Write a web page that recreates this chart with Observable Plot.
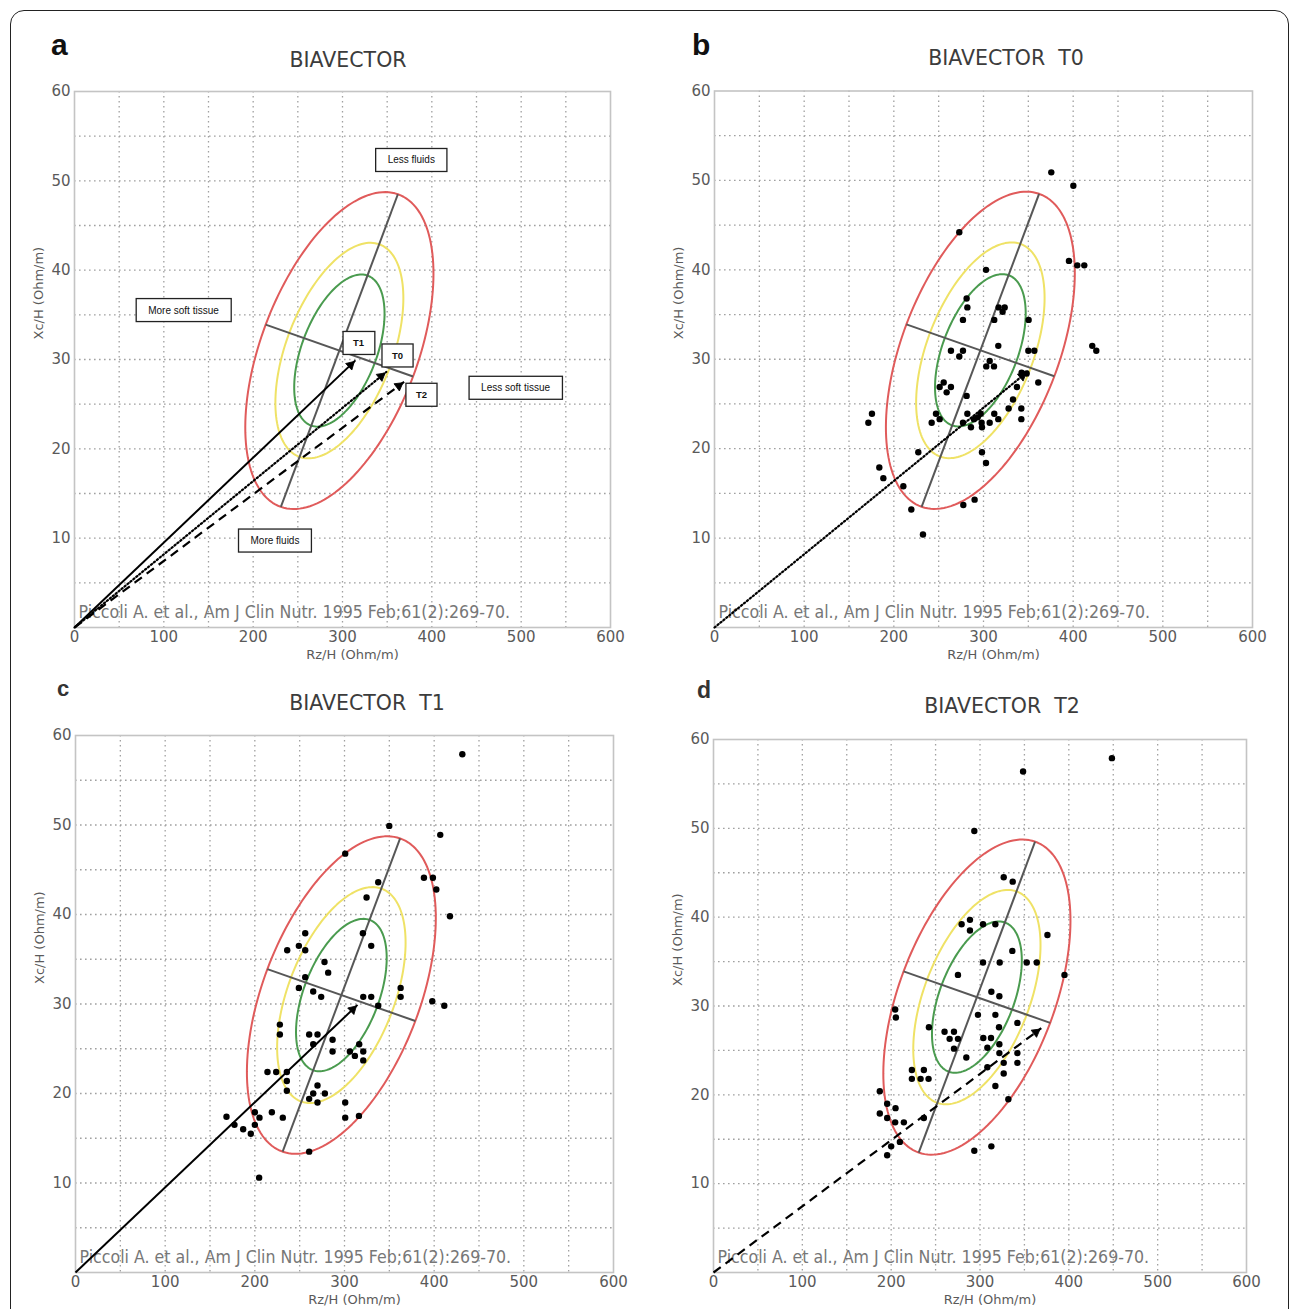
<!DOCTYPE html>
<html><head><meta charset="utf-8">
<script src="https://cdn.jsdelivr.net/npm/d3@7"></script>
<script src="https://cdn.jsdelivr.net/npm/@observablehq/plot@0.6"></script>
<style>
body{margin:0;background:#fff;}
#page{position:relative;width:1290px;height:1309px;overflow:hidden;background:#fff;}
.border{position:absolute;left:10px;top:10px;width:1279px;height:1340px;border:1.6px solid #222;border-radius:14px;box-sizing:border-box;}
.panel{position:absolute;}
.title{position:absolute;font-family:"DejaVu Sans",sans-serif;font-size:20.5px;line-height:20px;color:#3c3c3c;white-space:pre;transform:translateX(-50%);}
.letter{position:absolute;font-family:"Liberation Sans",Arial,sans-serif;font-weight:bold;line-height:1;}
</style></head>
<body><div id="page"><div class="border"></div></div>
<script>
// ---------- data ----------
const titles = ["BIAVECTOR", "BIAVECTOR  T0", "BIAVECTOR  T1", "BIAVECTOR  T2"];
const panelLetters = ["a", "b", "c", "d"];
const xTicks = [0, 100, 200, 300, 400, 500, 600];
const yTicks = [10, 20, 30, 40, 50, 60];
const xGrid = [50, 100, 150, 200, 250, 300, 350, 400, 450, 500, 550];
const yGrid = [5, 10, 15, 20, 25, 30, 35, 40, 45, 50, 55];
const xLabel = "Rz/H (Ohm/m)";
const yLabel = "Xc/H (Ohm/m)";
const citation = "Piccoli A. et al., Am J Clin Nutr. 1995 Feb;61(2):269-70.";

// tolerance ellipse (reference population)
const ellipseCenter = [296.5, 31];
const majorAxisEnd = [362, 48.5];
const minorAxisEnd = [379, 28.1];
const ellipseLevels = [1, 0.68, 0.48]; // 95%, 75%, 50%

// mean impedance vectors
const vectorNames = ["T0", "T1", "T2"];
const vectorRz = [349, 314.5, 369];
const vectorXc = [28.6, 29.9, 27.5];

// annotation labels in panel a
const regionLabels = ["Less fluids", "More soft tissue", "Less soft tissue", "More fluids"];
const regionX = [377, 122, 493.7, 224.4];
const regionY = [52.3, 35.5, 26.8, 9.7];
const timeLabels = ["T1", "T0", "T2"];
const timeX = [318, 361.6, 388.4];
const timeY = [31.8, 30.4, 26.0];

// individual subjects
const pointsT0 = [
[375.6,50.9],[400.2,49.4],[273,44.2],[395.3,41.0],[404.6,40.5],[412.4,40.5],[302.8,40.0],
[281.2,36.8],[282,35.8],[316.9,35.8],[323.6,35.8],[321.3,35.3],[312,34.4],[277.1,34.4],[350.3,34.4],
[316.5,31.5],[263.7,30.95],[277.1,30.95],[273,30.3],[350,30.95],[356.7,30.95],[421.3,31.5],[425.8,30.95],
[306.9,29.8],[303.1,29.2],[311.7,29.2],[342.5,28.5],[348.1,28.4],[255.6,27.4],[251.1,26.9],[263.7,26.9],
[258.9,26.3],[361.1,27.4],[337.3,26.9],[281.2,25.9],[332.9,25.5],[247,23.9],[251.1,23.3],[242.2,22.9],
[282,23.9],[296.8,23.9],[312,23.9],[293.5,23.5],[289.4,23.3],[316.5,23.3],[328,24.5],[342.2,24.5],
[342.2,23.3],[277.1,22.9],[286,22.4],[297.9,22.9],[298.3,22.4],[306.9,22.9],[175.6,23.9],[171.6,22.9],
[298.3,19.6],[302.8,18.4],[227.3,19.6],[183.8,17.9],[188.3,16.7],[210.6,15.8],[277.5,13.7],[290.1,14.3],
[219.5,13.2],[232.5,10.4]
];
const pointsT1 = [
[431.4,57.9],[349.9,49.9],[406.8,48.9],[300.8,46.8],[388.6,44.1],[398.6,44.1],[402.4,42.8],[337.6,43.6],
[324.6,41.9],[417.6,39.8],[320.5,37.9],[256.2,37.9],[249.1,36.5],[236.1,36.0],[256.2,36.0],[329.8,36.5],
[277.7,34.7],[281.8,33.5],[256.2,33.0],[249.1,31.8],[265.1,31.4],[274,30.8],[362.6,31.8],[362.6,30.8],
[320.9,30.8],[329.8,30.8],[337.6,29.8],[397.9,30.3],[411.3,29.8],[227.9,27.7],[227.9,26.6],[260.6,26.6],
[269.9,26.6],[265.1,25.5],[286.7,26.0],[286.7,24.7],[306,24.7],[316.4,25.5],[311.6,24.2],[320.9,24.7],
[320.9,23.7],[214.1,22.4],[223.8,22.4],[235.7,22.4],[235.7,21.4],[235.7,20.3],[269.9,20.9],[265.1,20.0],
[260.6,19.4],[278.1,20.0],[269.9,19.0],[300.8,19.0],[300.8,17.3],[316.1,17.5],[168.4,17.4],[177.3,16.5],
[187,16.0],[195.5,15.5],[200,17.9],[205.2,17.3],[200,16.5],[219,17.9],[231.2,17.3],[260.6,13.5],[204.8,10.6]
];
const pointsT2 = [
[448.5,57.9],[348.5,56.4],[293.6,49.7],[326.7,44.5],[336.8,44.0],[279.3,39.2],[288.7,39.7],[288.7,38.5],
[303.4,39.2],[317.3,39.2],[375.9,38.0],[336.4,36.2],[303.4,34.9],[322.2,34.9],[352.6,34.9],[363.9,34.9],
[395.1,33.5],[275.2,33.5],[312.8,31.6],[321.8,31.1],[204.5,29.6],[205.3,28.7],[297.7,29.0],[317.3,29.0],
[342.1,28.1],[242.5,27.6],[260.1,27.1],[270.7,27.1],[265.8,26.3],[275.2,26.3],[270.7,25.2],[321.4,27.6],
[303.7,26.4],[312.4,26.4],[308.3,25.3],[321.8,25.7],[321.8,24.7],[342.1,24.7],[342.1,23.6],[284.6,24.2],
[308.3,23.1],[326.7,23.6],[326.7,22.4],[317.3,21.0],[331.9,19.5],[223.3,22.8],[236.8,22.8],[223.3,21.8],
[233.1,21.8],[242.1,21.8],[187.2,20.4],[195.5,19.0],[204.9,18.5],[187.2,17.9],[195.5,17.4],[204.5,16.9],
[214.3,16.9],[236.8,17.4],[200,14.2],[195.5,13.2],[209.8,14.7],[293.6,13.7],[312.8,14.2]
];

// ---------- styles / layout ----------
const ellipseColors = ["#e05b5b", "#efe266", "#4a9b4f"];
const dashStyles = {T0: "1.4,2.4", T1: null, T2: "9,6"};
const headHeight = 10; // px
const layout = [
  {left: 0,   top: 0,   width: 645, height: 668, mL: 74, mR: 35, mT: 91,   mB: 41},
  {left: 645, top: 0,   width: 645, height: 668, mL: 69, mR: 38, mT: 90.5, mB: 41},
  {left: 0,   top: 668, width: 645, height: 641, mL: 75, mR: 32, mT: 67,   mB: 37},
  {left: 645, top: 668, width: 645, height: 641, mL: 68, mR: 44, mT: 71,   mB: 37}
];
const titlePos = [[348, 50], [1006, 48], [367, 693], [1002, 696]];
const letterPos = [[51, 29.6, 30, "#111"], [692, 29.6, 30, "#111"], [57, 678.4, 22, "#333"], [697, 678.5, 23, "#333"]];

// ---------- helpers ----------
const A = [majorAxisEnd[0] - ellipseCenter[0], majorAxisEnd[1] - ellipseCenter[1]];
const B = [minorAxisEnd[0] - ellipseCenter[0], minorAxisEnd[1] - ellipseCenter[1]];
function ellipsePoints(k) {
  const pts = [];
  for (let i = 0; i <= 160; i++) {
    const t = 2 * Math.PI * i / 160;
    pts.push({x: ellipseCenter[0] + k * (A[0] * Math.cos(t) + B[0] * Math.sin(t)),
              y: ellipseCenter[1] + k * (A[1] * Math.cos(t) + B[1] * Math.sin(t))});
  }
  return pts;
}
const axisSegments = [
  {x1: ellipseCenter[0] - A[0], y1: ellipseCenter[1] - A[1], x2: majorAxisEnd[0], y2: majorAxisEnd[1]},
  {x1: ellipseCenter[0] - B[0], y1: ellipseCenter[1] - B[1], x2: minorAxisEnd[0], y2: minorAxisEnd[1]}
];
const vectors = vectorNames.map((n, i) => ({name: n, x: vectorRz[i], y: vectorXc[i]}));

function vectorMarks(names, L) {
  const kx = (L.width - L.mL - L.mR) / 600;
  const ky = (L.height - L.mT - L.mB) / 60;
  const marks = [];
  const vs = vectors.filter(d => names.includes(d.name));
  for (const v of vs) {
    const dash = dashStyles[v.name];
    const opts = {x1: () => 0, y1: () => 0, x2: "x", y2: "y", stroke: "#000", strokeWidth: dash === null ? 2 : 2.2};
    if (dash !== null) { opts.strokeDasharray = dash; opts.strokeLinecap = v.name === "T0" ? "round" : "butt"; }
    marks.push(Plot.link([v], opts));
  }
  // filled triangular arrowheads, centred so the tip lands on the vector end
  const hy = headHeight / 3;
  const area = hy * hy * 3 * Math.sqrt(3);
  const lenPx = d => Math.hypot(d.x * kx, d.y * ky);
  marks.push(Plot.dot(vs, {
    x: d => d.x * (1 - 2 * hy / lenPx(d)),
    y: d => d.y * (1 - 2 * hy / lenPx(d)),
    symbol: "triangle2",
    r: Math.sqrt(area / Math.PI),
    rotate: d => 90 - Math.atan2(d.y * ky, d.x * kx) * 180 / Math.PI,
    fill: "#000", stroke: "#000", strokeWidth: 0.8
  }));
  return marks;
}

function baseMarks() {
  const gridStyle = {stroke: "#a0a0a0", strokeOpacity: 1, strokeDasharray: "1.6,3.4", strokeWidth: 1.3};
  return [
    Plot.gridX(xGrid, gridStyle),
    Plot.gridY(yGrid, gridStyle),
    Plot.frame({stroke: "#c4c4c4", strokeWidth: 1.6}),
    Plot.axisX(xTicks, {tickSize: 0, tickPadding: 4, fontSize: 15, color: "#5a5a5a", label: null}),
    Plot.axisY(yTicks, {tickSize: 0, tickPadding: 4, fontSize: 15, color: "#5a5a5a", label: null}),
    Plot.text([xLabel], {frameAnchor: "bottom", dx: 10, dy: 27, lineAnchor: "middle", fontSize: 13, fill: "#5a5a5a"}),
    Plot.text([yLabel], {frameAnchor: "left", rotate: -90, dx: -36, dy: -20, lineAnchor: "middle", fontSize: 13, fill: "#5a5a5a"}),
    Plot.text([citation], {frameAnchor: "bottom-left", dx: 4, dy: -15, lineAnchor: "middle", textAnchor: "start", fontSize: 17.6, fill: "#777", fontFamily: "DejaVu Sans Condensed, DejaVu Sans"}),
    ...ellipseLevels.map((k, i) => Plot.line(ellipsePoints(k), {x: "x", y: "y", stroke: ellipseColors[i], strokeWidth: 2})),
    Plot.link(axisSegments, {x1: "x1", y1: "y1", x2: "x2", y2: "y2", stroke: "#575757", strokeWidth: 2})
  ];
}

function dotMark(points) {
  return Plot.dot(points, {x: d => d[0], y: d => d[1], r: 3.2, fill: "#000", stroke: null});
}

const panelMarks = [
  [...baseMarks(), ...vectorMarks(["T0", "T1", "T2"], layout[0]),
   Plot.text(regionLabels, {x: (d, i) => regionX[i], y: (d, i) => regionY[i], text: d => d, fontSize: 10, fill: "#111", fontFamily: "Liberation Sans, Arial"}),
   Plot.text(timeLabels, {x: (d, i) => timeX[i], y: (d, i) => timeY[i], text: d => d, fontSize: 9.5, fontWeight: "bold", fill: "#111", fontFamily: "Liberation Sans, Arial"})],
  [...baseMarks(), ...vectorMarks(["T0"], layout[1]), dotMark(pointsT0)],
  [...baseMarks(), ...vectorMarks(["T1"], layout[2]), dotMark(pointsT1)],
  [...baseMarks(), ...vectorMarks(["T2"], layout[3]), dotMark(pointsT2)]
];

// ---------- render ----------
const page = document.getElementById("page");
const boxedTexts = new Set([...regionLabels, ...timeLabels]);
layout.forEach((L, i) => {
  const chart = Plot.plot({
    width: L.width, height: L.height,
    marginLeft: L.mL, marginRight: L.mR, marginTop: L.mT, marginBottom: L.mB,
    x: {domain: [0, 600]}, y: {domain: [0, 60]},
    style: {background: "transparent", overflow: "visible", fontFamily: "DejaVu Sans, sans-serif"},
    marks: panelMarks[i]
  });
  const div = document.createElement("div");
  div.className = "panel";
  div.style.left = L.left + "px";
  div.style.top = L.top + "px";
  div.appendChild(chart);
  page.appendChild(div);

  // boxes behind annotation texts
  if (i === 0) {
    chart.querySelectorAll("text").forEach(t => {
      if (!boxedTexts.has(t.textContent)) return;
      const bb = t.getBBox();
      const padX = t.textContent.length <= 2 ? 10 : 12, h = 23;
      const r = document.createElementNS("http://www.w3.org/2000/svg", "rect");
      r.setAttribute("x", bb.x - padX);
      r.setAttribute("y", bb.y + bb.height / 2 - h / 2);
      r.setAttribute("width", bb.width + 2 * padX);
      r.setAttribute("height", h);
      r.setAttribute("fill", "#fff");
      r.setAttribute("stroke", "#222");
      r.setAttribute("stroke-width", "1.3");
      if (t.getAttribute("transform")) r.setAttribute("transform", t.getAttribute("transform"));
      t.parentNode.insertBefore(r, t);
    });
  }

  const title = document.createElement("div");
  title.className = "title";
  title.textContent = titles[i];
  title.style.left = titlePos[i][0] + "px";
  title.style.top = titlePos[i][1] + "px";
  page.appendChild(title);

  const letter = document.createElement("div");
  letter.className = "letter";
  letter.textContent = panelLetters[i];
  letter.style.left = letterPos[i][0] + "px";
  letter.style.top = letterPos[i][1] + "px";
  letter.style.fontSize = letterPos[i][2] + "px";
  letter.style.color = letterPos[i][3];
  page.appendChild(letter);
});
</script>
</body></html>
